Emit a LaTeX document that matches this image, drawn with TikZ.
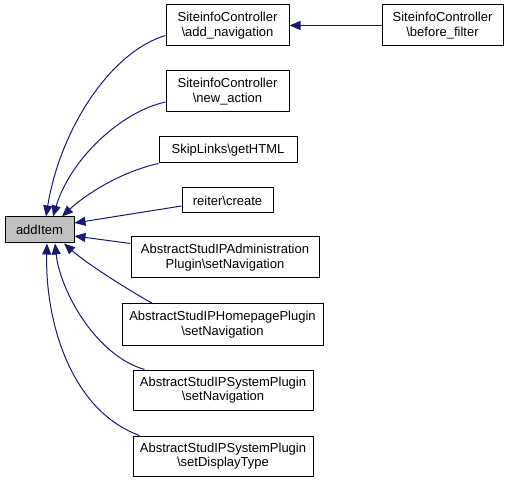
\documentclass[tikz,border=0pt]{standalone}
\usepackage{fontspec}
\setmainfont{Liberation Sans}
\usetikzlibrary{arrows.meta, positioning}
\definecolor{edgeblue}{HTML}{191970}
\tikzset{
    box/.style={
        draw,
        line width=1pt,
        inner sep=0pt,
        minimum height=41pt,
        align=center,
        font=\fontsize{13}{14.5}\selectfont
    },
    focus/.style={
        box,
        fill=black!25,
        minimum width=69pt,
        minimum height=26pt
    },
    line/.style={-{Triangle[length=11pt,width=9pt]}, edgeblue, line width=1pt}
}

\begin{document}
\begin{tikzpicture}[x=1pt, y=-1pt]
\useasboundingbox (0,0) rectangle (509,481);

\node[focus] (add) at (39.5,230) {addItem};

\node[box, minimum width=123pt] (nav) at (227.5,25.5) {SiteinfoController\\\textbackslash add\_navigation};
\node[box, minimum width=121pt, right=92pt of nav] (bf) {SiteinfoController\\\textbackslash before\_filter};
\node[box, minimum width=123pt] (newact) at (227.5,91.5) {SiteinfoController\\\textbackslash new\_action};
\node[box, minimum width=138pt, minimum height=26pt] (skip) at (228,150) {SkipLinks\textbackslash getHTML};
\node[box, minimum width=91pt, minimum height=25pt] (reiter) at (227.5,200.5) {reiter\textbackslash create};
\node[box, minimum width=188pt] (admin) at (225,257.5) {AbstractStudIPAdministration\\Plugin\textbackslash setNavigation};
\node[box, minimum width=201pt] (home) at (222.5,324.5) {AbstractStudIPHomepagePlugin\\\textbackslash setNavigation};
\node[box, minimum width=180pt, minimum height=40pt] (sysnav) at (223,390) {AbstractStudIPSystemPlugin\\\textbackslash setNavigation};
\node[box, minimum width=180pt, minimum height=40pt] (sysdisp) at (223,456) {AbstractStudIPSystemPlugin\\\textbackslash setDisplayType};

\draw[line] (bf) -- (nav);
\draw[line] ([yshift=-10pt]nav.west) .. controls (110,52) and (60,130) .. ([xshift=6.5pt]add.north);
\draw[line] ([yshift=-10.5pt]newact.west) .. controls (120,112) and (70,160) .. ([xshift=13.5pt]add.north);
\draw[line] (skip.south west) .. controls (120,172) and (85,195) .. ([xshift=22.5pt]add.north);
\draw[line] ([yshift=-5.5pt]reiter.west) -- ([yshift=7pt]add.east);
\draw[line] ([yshift=-7pt]admin.north west) -- ([yshift=-6pt]add.east);
\draw[line] ([xshift=31pt]home.north west) .. controls (120,285) and (85,262) .. ([xshift=24.5pt]add.south);
\draw[line] ([xshift=12pt]sysnav.north west) .. controls (95,355) and (60,290) .. ([xshift=15.5pt]add.south);
\draw[line] ([xshift=7pt]sysdisp.north west) .. controls (70,410) and (45,320) .. ([xshift=7.5pt]add.south);
\end{tikzpicture}
\end{document}
